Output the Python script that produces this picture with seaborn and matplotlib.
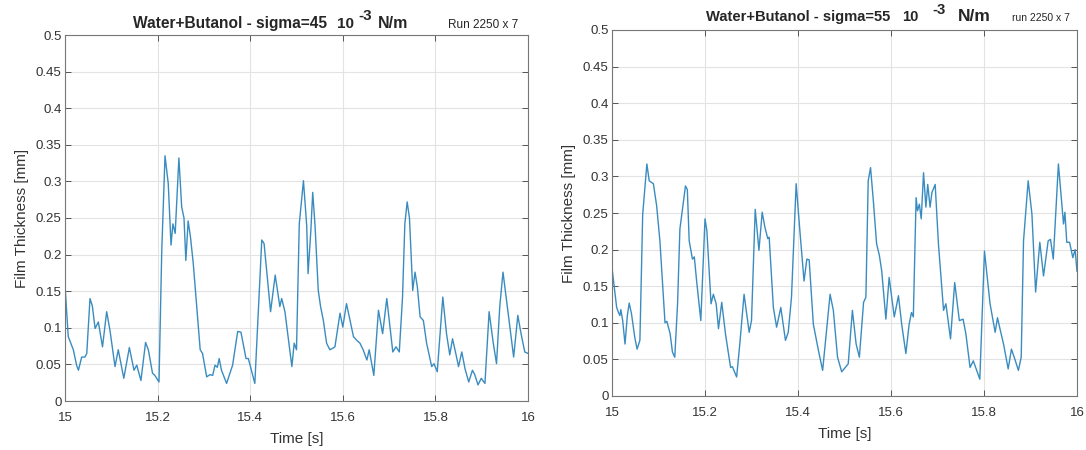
import numpy as np
import pandas as pd
import matplotlib
matplotlib.use("Agg")
import matplotlib.pyplot as plt
import seaborn as sns

# sigma = 45 run (left panel)
t_left = [15.000, 15.007, 15.018, 15.025, 15.029, 15.036, 15.043, 15.047, 15.054, 15.059,
          15.065, 15.072, 15.081, 15.090, 15.097, 15.108, 15.115, 15.127, 15.139, 15.149,
          15.155, 15.164, 15.174, 15.180, 15.189, 15.194, 15.203, 15.209, 15.216, 15.223,
          15.229, 15.233, 15.238, 15.246, 15.252, 15.257, 15.261, 15.266, 15.271, 15.277,
          15.292, 15.297, 15.306, 15.313, 15.319, 15.324, 15.329, 15.333, 15.338, 15.349,
          15.362, 15.373, 15.380, 15.391, 15.396, 15.410, 15.425, 15.430, 15.444, 15.454,
          15.464, 15.468, 15.475, 15.490, 15.495, 15.500, 15.506, 15.515, 15.522, 15.525,
          15.531, 15.535, 15.540, 15.547, 15.552, 15.558, 15.565, 15.572, 15.578, 15.583,
          15.594, 15.600, 15.608, 15.614, 15.623, 15.630, 15.637, 15.644, 15.652, 15.657,
          15.667, 15.677, 15.686, 15.695, 15.708, 15.715, 15.722, 15.729, 15.734, 15.739,
          15.744, 15.751, 15.756, 15.761, 15.767, 15.774, 15.781, 15.792, 15.797, 15.804,
          15.816, 15.824, 15.831, 15.837, 15.844, 15.850, 15.857, 15.864, 15.872, 15.880,
          15.885, 15.892, 15.899, 15.907, 15.916, 15.925, 15.932, 15.939, 15.946, 15.957,
          15.969, 15.978, 15.985, 15.993, 16.000]
v_left = [0.158, 0.088, 0.070, 0.049, 0.042, 0.060, 0.060, 0.065, 0.140, 0.130,
          0.099, 0.108, 0.074, 0.122, 0.097, 0.047, 0.070, 0.031, 0.073, 0.042,
          0.049, 0.028, 0.080, 0.070, 0.038, 0.035, 0.026, 0.206, 0.335, 0.297,
          0.213, 0.242, 0.229, 0.332, 0.265, 0.250, 0.192, 0.246, 0.224, 0.188,
          0.070, 0.065, 0.033, 0.036, 0.035, 0.049, 0.046, 0.058, 0.042, 0.024,
          0.049, 0.095, 0.094, 0.058, 0.058, 0.024, 0.220, 0.215, 0.122, 0.172,
          0.129, 0.140, 0.122, 0.047, 0.079, 0.070, 0.242, 0.301, 0.240, 0.174,
          0.233, 0.285, 0.240, 0.151, 0.129, 0.110, 0.079, 0.070, 0.072, 0.074,
          0.120, 0.101, 0.133, 0.115, 0.088, 0.083, 0.079, 0.070, 0.056, 0.070,
          0.035, 0.124, 0.092, 0.140, 0.067, 0.074, 0.067, 0.142, 0.242, 0.272,
          0.250, 0.151, 0.176, 0.156, 0.115, 0.110, 0.079, 0.047, 0.051, 0.040,
          0.142, 0.092, 0.063, 0.085, 0.065, 0.047, 0.067, 0.044, 0.026, 0.042,
          0.036, 0.022, 0.031, 0.024, 0.122, 0.079, 0.051, 0.129, 0.176, 0.120,
          0.060, 0.117, 0.092, 0.067, 0.065]

# sigma = 55 run (right panel)
t_right = [15.000, 15.004, 15.010, 15.014, 15.017, 15.019, 15.023, 15.028, 15.033, 15.037,
           15.042, 15.049, 15.054, 15.060, 15.066, 15.071, 15.075, 15.080, 15.089, 15.096,
           15.103, 15.114, 15.118, 15.125, 15.130, 15.135, 15.141, 15.146, 15.152, 15.158,
           15.162, 15.166, 15.173, 15.177, 15.182, 15.191, 15.200, 15.204, 15.213, 15.218,
           15.224, 15.229, 15.236, 15.244, 15.255, 15.259, 15.268, 15.275, 15.284, 15.295,
           15.300, 15.308, 15.316, 15.323, 15.329, 15.335, 15.338, 15.347, 15.354, 15.363,
           15.373, 15.379, 15.386, 15.396, 15.404, 15.413, 15.419, 15.424, 15.433, 15.444,
           15.453, 15.462, 15.469, 15.476, 15.485, 15.494, 15.499, 15.505, 15.508, 15.517,
           15.525, 15.532, 15.541, 15.546, 15.551, 15.556, 15.562, 15.569, 15.575, 15.580,
           15.589, 15.596, 15.607, 15.616, 15.623, 15.632, 15.639, 15.644, 15.648, 15.654,
           15.657, 15.661, 15.665, 15.670, 15.675, 15.679, 15.684, 15.688, 15.695, 15.702,
           15.713, 15.718, 15.728, 15.737, 15.747, 15.755, 15.761, 15.770, 15.777, 15.791,
           15.801, 15.813, 15.824, 15.829, 15.835, 15.842, 15.852, 15.859, 15.866, 15.874,
           15.880, 15.885, 15.895, 15.903, 15.911, 15.920, 15.928, 15.938, 15.943, 15.949,
           15.960, 15.965, 15.971, 15.974, 15.978, 15.984, 15.991, 15.996, 16.000]
v_right = [0.175, 0.153, 0.121, 0.114, 0.110, 0.118, 0.103, 0.071, 0.110, 0.127,
           0.112, 0.080, 0.064, 0.076, 0.248, 0.287, 0.317, 0.294, 0.290, 0.260,
           0.212, 0.100, 0.102, 0.085, 0.060, 0.053, 0.126, 0.228, 0.258, 0.287,
           0.282, 0.212, 0.187, 0.190, 0.157, 0.103, 0.242, 0.226, 0.126, 0.139,
           0.126, 0.092, 0.128, 0.085, 0.039, 0.040, 0.026, 0.072, 0.139, 0.087,
           0.103, 0.255, 0.199, 0.251, 0.230, 0.215, 0.217, 0.121, 0.094, 0.121,
           0.076, 0.087, 0.135, 0.290, 0.226, 0.157, 0.187, 0.186, 0.098, 0.062,
           0.035, 0.094, 0.139, 0.117, 0.053, 0.033, 0.037, 0.042, 0.044, 0.117,
           0.071, 0.053, 0.128, 0.135, 0.294, 0.312, 0.267, 0.208, 0.192, 0.171,
           0.105, 0.162, 0.108, 0.137, 0.098, 0.058, 0.098, 0.114, 0.108, 0.271,
           0.253, 0.262, 0.242, 0.305, 0.258, 0.289, 0.258, 0.278, 0.289, 0.208,
           0.117, 0.126, 0.078, 0.155, 0.103, 0.105, 0.085, 0.039, 0.048, 0.023,
           0.198, 0.126, 0.087, 0.107, 0.090, 0.071, 0.037, 0.064, 0.051, 0.035,
           0.053, 0.212, 0.294, 0.249, 0.142, 0.210, 0.164, 0.212, 0.214, 0.187,
           0.317, 0.280, 0.235, 0.251, 0.210, 0.210, 0.189, 0.200, 0.170]

x_ticks = [15, 15.2, 15.4, 15.6, 15.8, 16]
x_labels = ["15", "15.2", "15.4", "15.6", "15.8", "16"]
y_ticks = [0, 0.05, 0.1, 0.15, 0.2, 0.25, 0.3, 0.35, 0.4, 0.45, 0.5]
y_labels = ["0", "0.05", "0.1", "0.15", "0.2", "0.25", "0.3", "0.35", "0.4", "0.45", "0.5"]

sns.set_theme(style="white")
plt.rcParams["font.family"] = ["Liberation Sans", "DejaVu Sans"]

W, H = 1086, 450
fig = plt.figure(figsize=(W / 100, H / 100), dpi=100)
fig.patch.set_facecolor("white")

# axes boxes in pixels: left, top, right, bottom
boxes = [(65, 35, 528, 401), (612, 30, 1077, 396)]
line_color = "#3a8cc0"


def make_axes(box):
    l, t, r, b = box
    return fig.add_axes([l / W, 1 - b / H, (r - l) / W, (b - t) / H])


for box, tt, vv in [(boxes[0], t_left, v_left), (boxes[1], t_right, v_right)]:
    ax = make_axes(box)
    df = pd.DataFrame({"Time": tt, "Film": vv})
    sns.lineplot(data=df, x="Time", y="Film", ax=ax, color=line_color,
                 linewidth=1.0, estimator=None, sort=False)
    ax.set_xlim(15, 16)
    ax.set_ylim(0, 0.5)
    ax.set_xticks(x_ticks)
    ax.set_xticklabels(x_labels)
    ax.set_yticks(y_ticks)
    ax.set_yticklabels(y_labels)
    ax.grid(True, color="#e3e3e3", linewidth=0.8)
    ax.set_axisbelow(True)
    ax.tick_params(direction="in", length=4, width=0.7, colors="#555555",
                   labelcolor="#333333", labelsize=9.5, top=True, right=True,
                   bottom=True, left=True)
    ax.tick_params(axis="x", pad=8)
    ax.tick_params(axis="y", pad=2.5)
    for s in ax.spines.values():
        s.set_color("#777777")
        s.set_linewidth(0.8)
        s.set_visible(True)
    ax.set_xlabel("Time [s]", fontsize=11, color="#333333", labelpad=6)
    ax.set_ylabel("Film Thickness [mm]", fontsize=11, color="#333333", labelpad=5)


def ftext(x, y, s, **kw):
    fig.text(x / W, 1 - y / H, s, **kw)


# left title
ftext(133, 28, "Water+Butanol - sigma=45", fontsize=11.2, fontweight="bold", va="baseline")
ftext(337, 28, "10", fontsize=11, fontweight="bold", va="baseline")
ftext(358, 20, "-3", fontsize=11, fontweight="bold", va="baseline")
ftext(378, 28, "N/m", fontsize=11.5, fontweight="bold", va="baseline")
ftext(448, 28, "Run 2250 x 7", fontsize=8.5, va="baseline")

# right title
ftext(706, 21, "Water+Butanol - sigma=55", fontsize=10.6, fontweight="bold", va="baseline")
ftext(902, 21, "10", fontsize=10.6, fontweight="bold", va="baseline")
ftext(932, 14, "-3", fontsize=10.6, fontweight="bold", va="baseline")
ftext(958, 21, "N/m", fontsize=12.5, fontweight="bold", va="baseline")
ftext(1012, 21, "run 2250 x 7", fontsize=7.5, va="baseline")

fig.savefig("out.png", dpi=100, facecolor="white")
